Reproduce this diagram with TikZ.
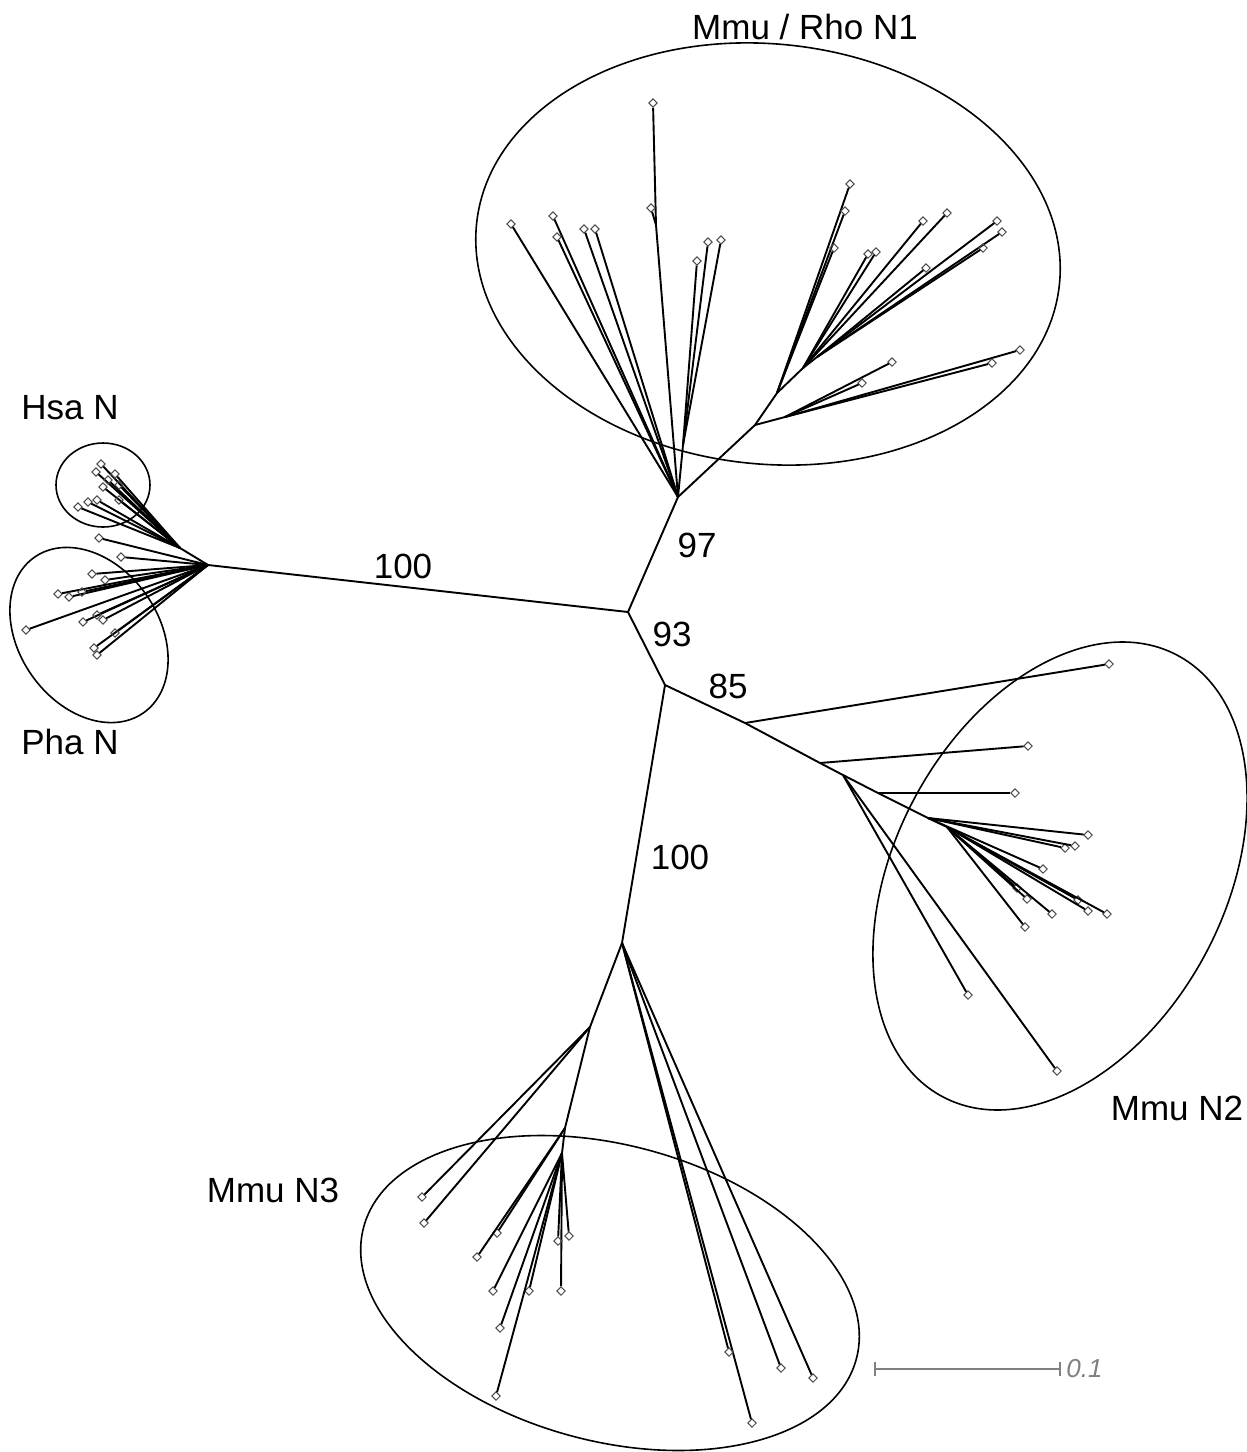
\documentclass[tikz,border=0pt]{standalone}
\usepackage{fontspec}
\setmainfont{Liberation Sans}
\usetikzlibrary{shapes.geometric}
\begin{document}
\begin{tikzpicture}[
        x=0.5pt, y=-0.5pt,
        branch/.style={draw, line width=0.95pt},
        leaf/.style={draw=black!70, diamond, inner sep=0pt, minimum size=4.4pt, line width=0.5pt},
        clade/.style={draw, line width=0.8pt},
        lab/.style={font=\fontsize{17.5}{21}\selectfont, inner sep=0pt},
        scalebar/.style={draw=black!50, line width=0.8pt},
    ]
    \useasboundingbox (0,0) rectangle (1247,1452);
    % backbone
    \coordinate (c) at (628,612);
    \coordinate (l) at (208,565);
    \coordinate (u) at (678,497);
    \coordinate (d) at (665,685);
    \coordinate (b) at (622,943);
    \draw[branch] (l) -- (c) -- (u);
    \draw[branch] (c) -- (d) -- (b);
    % Mmu / Rho N1
    \coordinate (u2) at (656,225);
    \coordinate (u3) at (683,445);
    \coordinate (u4) at (755,425);
    \coordinate (u5) at (777,393);
    \coordinate (u6) at (803,368);
    \coordinate (u7) at (817,357);
    \coordinate (u8) at (785,417);
    \draw[branch] (u) -- (u2);
    \draw[branch] (u) -- (u3);
    \draw[branch] (u) -- (u4) -- (u5) -- (u6) -- (u7);
    \draw[branch] (u4) -- (u8);
    \foreach \p/\x/\y [count=\i] in {u/511/224, u/553/216, u/557/237, u/584/229, u/595/229,
            u2/653/103, u2/651/208, u3/697/261, u3/708/242, u3/721/240,
            u5/850/184, u5/845/211, u5/834/248, u6/868/254, u6/876/252, u6/923/221, u6/947/213,
            u7/997/221, u7/1002/232, u7/983/248, u7/926/268,
            u8/892/362, u8/862/383, u8/1020/350, u8/992/363}{
        \node[leaf] (a\i) at (\x,\y) {};
        \draw[branch] (\p) -- (a\i);
    }
    % Hsa N and Pha N
    \coordinate (l1) at (180,548);
    \draw[branch] (l) -- (l1);
    \foreach \p/\x/\y [count=\i] in {l1/101/464, l1/96/472, l1/115/474, l1/108/480, l1/103/487,
            l1/119/485, l1/97/500, l1/88/502, l1/78/507, l1/119/500,
            l/99/538, l/121/557, l/92/574, l/105/580, l/58/594, l/69/597, l/82/592,
            l/26/630, l/83/622, l/97/615, l/103/620, l/94/648, l/97/655, l/115/633}{
        \node[leaf] (h\i) at (\x,\y) {};
        \draw[branch] (\p) -- (h\i);
    }
    % Mmu N2
    \coordinate (d1) at (745,723);
    \coordinate (d2) at (820,763);
    \coordinate (d3) at (843,775);
    \coordinate (d4) at (878,793);
    \coordinate (d5) at (928,818);
    \coordinate (d6) at (947,827);
    \draw[branch] (d) -- (d1) -- (d2) -- (d3) -- (d4) -- (d5) -- (d6);
    \foreach \p/\x/\y [count=\i] in {d1/1109/664, d2/1028/746, d4/1015/793, d3/968/995, d3/1057/1071,
            d5/1088/835, d5/1065/848, d5/1075/846, d5/1043/869,
            d6/1017/888, d6/1027/899, d6/1052/914, d6/1025/927, d6/1078/900, d6/1088/911, d6/1107/914}{
        \node[leaf] (m\i) at (\x,\y) {};
        \draw[branch] (\p) -- (m\i);
    }
    % Mmu N3
    \coordinate (b1) at (590,1027);
    \coordinate (b2) at (565,1128);
    \coordinate (b3) at (562,1153);
    \draw[branch] (b) -- (b1) -- (b2) -- (b3);
    \foreach \p/\x/\y [count=\i] in {b1/422/1197, b1/424/1223, b2/497/1233, b2/477/1257,
            b3/493/1291, b3/529/1291, b3/561/1291, b3/558/1241, b3/569/1236, b3/500/1328, b3/496/1396,
            b/752/1423, b/729/1352, b/781/1368, b/813/1378}{
        \node[leaf] (k\i) at (\x,\y) {};
        \draw[branch] (\p) -- (k\i);
    }
    % clade outlines
    \draw[clade, rotate around={-6:(768,254)}] (768,254) ellipse [x radius=293, y radius=210];
    \draw[clade] (103,485) ellipse [x radius=47, y radius=42];
    \draw[clade, rotate around={35:(89,635)}] (89,635) ellipse [x radius=70, y radius=95];
    \draw[clade, rotate around={-28:(1060,876)}] (1060,876) ellipse [x radius=165, y radius=250];
    \draw[clade, rotate around={-15:(610,1293)}] (610,1293) ellipse [x radius=255, y radius=148];
    % labels
    \node[lab] (n1lab) at (805,27) {Mmu / Rho N1};
    \node[lab] (hsalab) at (70,408) {Hsa N};
    \node[lab] (phalab) at (70,742) {Pha N};
    \node[lab] (n2lab) at (1177,1108) {Mmu N2};
    \node[lab] (n3lab) at (273,1190) {Mmu N3};
    \node[lab] (bs1) at (403,566) {100};
    \node[lab] (bs2) at (697,545) {97};
    \node[lab] (bs3) at (672,634) {93};
    \node[lab] (bs4) at (728,686) {85};
    \node[lab] (bs5) at (680,857) {100};
    % scale bar
    \coordinate (sb0) at (875,1369);
    \coordinate (sb1) at (1060,1369);
    \draw[scalebar] (sb0) -- (sb1);
    \draw[scalebar] (sb0) ++(0,-7) -- ++(0,14);
    \draw[scalebar] (sb1) ++(0,-7) -- ++(0,14);
    \node[font=\fontsize{13}{15}\selectfont\itshape, text=black!50, anchor=west, inner sep=0pt] (sblab) at (1066,1369) {0.1};
\end{tikzpicture}
\end{document}
